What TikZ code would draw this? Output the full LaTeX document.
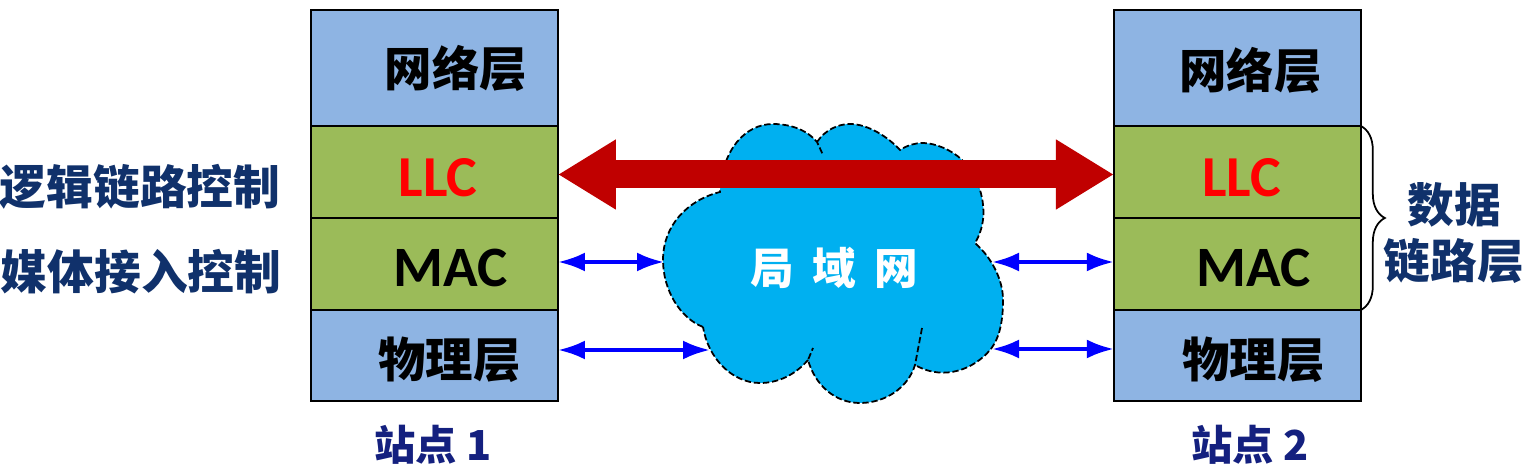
\documentclass[tikz,border=0pt]{standalone}
\usepackage{fontspec}
\setmainfont{Noto Sans CJK SC}
\newfontfamily\latinfont{Carlito}
\definecolor{netblue}{HTML}{8EB4E3}
\definecolor{linkgreen}{HTML}{9BBB59}
\definecolor{cloudblue}{HTML}{00B0F0}
\definecolor{llcred}{HTML}{C00000}
\definecolor{sidenavy}{HTML}{10316B}
\definecolor{sitenavy}{HTML}{14207F}
\usetikzlibrary{arrows.meta, decorations.pathreplacing}
\tikzset{
	layerbox/.style={draw=black, line width=1.5pt, minimum width=4.94cm, inner sep=0pt, outer sep=0pt},
	layertext/.style={inner sep=0pt, font=\fontsize{27}{30}\selectfont\bfseries},
	prototext/.style={inner sep=0pt, font=\fontsize{32.5}{36}\selectfont\latinfont\bfseries},
	llctext/.style={inner sep=0pt, text=red, font=\fontsize{33}{36}\selectfont\latinfont\bfseries},
	sidetext/.style={inner sep=0pt, text=sidenavy, align=center, font=\fontsize{26.6}{31.5}\selectfont\bfseries},
	sitetext/.style={inner sep=0pt, text=sitenavy, font=\fontsize{23.5}{26}\selectfont\bfseries},
	cloudline/.style={draw=black, line width=1pt, dash pattern=on 3.6pt off 1.6pt},
	smalllink/.style={blue, line width=2.2pt, {Latex[length=0.54cm,width=0.38cm]}-{Latex[length=0.54cm,width=0.38cm]}},
}

\begin{document}
\begin{tikzpicture}[x=0.02cm,y=-0.02cm]
	\useasboundingbox (0,0) rectangle (1527,475);
	\pgfmathsetmacro{\stackx}{434.5}

	% cloud
	\fill[cloudblue] (703,327) .. controls (680,318) and (663,290) .. (663,260)
		.. controls (663,225) and (688,200) .. (720,192)
		.. controls (722,150) and (745,124) .. (773,124)
		.. controls (792,124) and (808,131) .. (817,142)
		.. controls (825,130) and (838,124) .. (850,124)
		.. controls (868,124) and (888,137) .. (900,150)
		.. controls (908,145) and (915,143) .. (923,143)
		.. controls (935,143) and (952,150) .. (962,160)
		.. controls (972,170) and (978,180) .. (980,190)
		.. controls (986,210) and (984,228) .. (975,243)
		.. controls (992,258) and (1003,280) .. (1003,300)
		.. controls (1003,320) and (1000,338) .. (990,350)
		.. controls (975,368) and (945,382) .. (915,365)
		.. controls (908,388) and (885,403) .. (860,403)
		.. controls (835,403) and (815,385) .. (808,360)
		.. controls (795,375) and (778,383) .. (760,383)
		.. controls (732,383) and (708,358) .. (703,327) -- cycle;
	\draw[cloudline] (703,327) .. controls (680,318) and (663,290) .. (663,260)
		.. controls (663,225) and (688,200) .. (720,192)
		.. controls (722,150) and (745,124) .. (773,124)
		.. controls (792,124) and (808,131) .. (817,142) -- (823,155);
	\draw[cloudline] (817,142) .. controls (825,130) and (838,124) .. (850,124)
		.. controls (868,124) and (888,137) .. (900,150)
		.. controls (908,145) and (915,143) .. (923,143)
		.. controls (935,143) and (952,150) .. (962,160)
		.. controls (972,170) and (978,180) .. (980,190)
		.. controls (986,210) and (984,228) .. (975,243)
		.. controls (992,258) and (1003,280) .. (1003,300)
		.. controls (1003,320) and (1000,338) .. (990,350)
		.. controls (975,368) and (945,382) .. (915,365);
	\draw[cloudline] (922,328) -- (915,365)
		.. controls (908,388) and (885,403) .. (860,403)
		.. controls (835,403) and (815,385) .. (808,360) -- (813,348);
	\draw[cloudline] (808,360) .. controls (795,375) and (778,383) .. (760,383)
		.. controls (732,383) and (708,358) .. (703,327);
	\node[inner sep=0pt, white, font=\fontsize{24.8}{28}\selectfont\bfseries] (lan) at (834,268) {局\hspace{0.42em}域\hspace{0.42em}网};

	\coordinate (cloudmacL) at (664,262);
	\coordinate (cloudphyL) at (710,350);
	\coordinate (cloudmacR) at (992,262);
	\coordinate (cloudphyR) at (992,349);

	\begin{scope}
		\node[layerbox, fill=netblue, minimum height=2.32cm] (net1) at (\stackx,68) {};
		\node[layerbox, fill=linkgreen, minimum height=1.84cm] (llc1) at (\stackx,172) {};
		\node[layerbox, fill=linkgreen, minimum height=1.84cm] (mac1) at (\stackx,264) {};
		\node[layerbox, fill=netblue, minimum height=1.82cm] (phy1) at (\stackx,355.5) {};
		\node[layertext] (net1text) at (456,68) {网络层};
		\node[llctext] (llc1text) at (438,178) {LLC};
		\node[prototext] (mac1text) at (451,268) {MAC};
		\node[layertext] (phy1text) at (449.5,360) {物理层};
		\node[sitetext] (site1) at (433,445) {站点 1};
	\end{scope}

	\begin{scope}[xshift=16.06cm]
		\node[layerbox, fill=netblue, minimum height=2.32cm] (net2) at (\stackx,68) {};
		\node[layerbox, fill=linkgreen, minimum height=1.84cm] (llc2) at (\stackx,172) {};
		\node[layerbox, fill=linkgreen, minimum height=1.84cm] (mac2) at (\stackx,264) {};
		\node[layerbox, fill=netblue, minimum height=1.82cm] (phy2) at (\stackx,355.5) {};
		\node[layertext] (net2text) at (447.5,70) {网络层};
		\node[llctext] (llc2text) at (439,178) {LLC};
		\node[prototext] (mac2text) at (451,268) {MAC};
		\node[layertext] (phy2text) at (450.5,360) {物理层};
		\node[sitetext] (site2) at (447,445) {站点 2};
	\end{scope}

	% links between the stacks and the cloud
	\draw[llcred, line width=0.56cm, {Triangle[length=1.16cm,width=1.32cm]}-{Triangle[length=1.16cm,width=1.32cm]}] ([yshift=-0.05cm]llc1.east) -- ([yshift=-0.05cm]llc2.west);
	\draw[smalllink] (mac1.east |- cloudmacL) -- (cloudmacL);
	\draw[smalllink] (phy1.east |- cloudphyL) -- (cloudphyL);
	\draw[smalllink] (cloudmacR) -- (mac2.west |- cloudmacR);
	\draw[smalllink] (cloudphyR) -- (phy2.west |- cloudphyR);

	\node[sidetext] (llcside) at (140,187) {逻辑链路控制};
	\node[sidetext] (macside) at (141,272) {媒体接入控制};

	\draw[line width=1pt, decorate, decoration={brace, amplitude=0.48cm}] (llc2.north east) -- (mac2.south east);
	\node[sidetext] (dataside) at (1454,233) {数据\\链路层};
\end{tikzpicture}
\end{document}
